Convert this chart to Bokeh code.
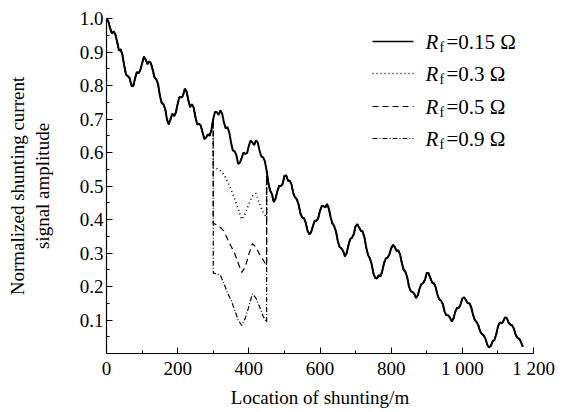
from bokeh.plotting import figure
from bokeh.models import Range1d, FixedTicker, Label, Arrow, NumeralTickFormatter
from bokeh.embed import file_html
from bokeh.resources import INLINE

# ---- data ----
x_loc = list(range(0, 1180, 10))
amp_main = [1.000, 0.972, 0.962, 0.930, 0.908, 0.858, 0.828, 0.800, 0.820, 0.836,
            0.866, 0.878, 0.872, 0.846, 0.818, 0.770, 0.744, 0.698, 0.700, 0.708,
            0.745, 0.764, 0.790, 0.756, 0.744, 0.705, 0.686, 0.660, 0.645, 0.650,
            0.700, 0.720, 0.726, 0.690, 0.676, 0.630, 0.604, 0.566, 0.584, 0.596,
            0.620, 0.630, 0.636, 0.606, 0.586, 0.546, 0.486, 0.452, 0.484, 0.500,
            0.530, 0.516, 0.504, 0.466, 0.444, 0.406, 0.390, 0.356, 0.380, 0.396,
            0.426, 0.440, 0.446, 0.406, 0.380, 0.336, 0.314, 0.290, 0.324, 0.346,
            0.380, 0.376, 0.364, 0.316, 0.284, 0.240, 0.224, 0.230, 0.270, 0.286,
            0.314, 0.318, 0.308, 0.270, 0.244, 0.200, 0.184, 0.166, 0.194, 0.210,
            0.240, 0.226, 0.210, 0.176, 0.158, 0.126, 0.114, 0.096, 0.124, 0.136,
            0.164, 0.160, 0.150, 0.116, 0.094, 0.066, 0.054, 0.026, 0.022, 0.040,
            0.080, 0.090, 0.108, 0.092, 0.084, 0.056, 0.044, 0.020]
# readings half-way between the 10 m samples (x = 5, 15, ..., 1165)
x_mid = list(range(5, 1170, 10))
amp_mid = [0.992, 0.955, 0.952, 0.904, 0.890, 0.832, 0.822, 0.798, 0.840, 0.846,
           0.886, 0.864, 0.866, 0.824, 0.804, 0.748, 0.730, 0.684, 0.716, 0.720,
           0.766, 0.770, 0.782, 0.736, 0.734, 0.684, 0.680, 0.640, 0.654, 0.668,
           0.722, 0.712, 0.716, 0.672, 0.660, 0.606, 0.592, 0.570, 0.600, 0.598,
           0.636, 0.622, 0.630, 0.588, 0.574, 0.508, 0.476, 0.462, 0.500, 0.506,
           0.532, 0.516, 0.478, 0.460, 0.418, 0.404, 0.366, 0.362, 0.396, 0.404,
           0.440, 0.436, 0.432, 0.388, 0.364, 0.318, 0.306, 0.300, 0.342, 0.356,
           0.386, 0.366, 0.346, 0.294, 0.268, 0.226, 0.234, 0.246, 0.284, 0.296,
           0.324, 0.306, 0.296, 0.250, 0.228, 0.186, 0.178, 0.174, 0.208, 0.220,
           0.240, 0.212, 0.198, 0.162, 0.148, 0.114, 0.108, 0.104, 0.136, 0.146,
           0.168, 0.150, 0.138, 0.100, 0.084, 0.058, 0.044, 0.018, 0.036, 0.056,
           0.092, 0.096, 0.106, 0.086, 0.074, 0.046, 0.034]

x_drop = [300, 310, 320, 330, 340, 350, 360, 370, 380, 390, 400, 410, 420, 430, 440, 450]
amp_03 = [0.555, 0.552, 0.546, 0.534, 0.514, 0.490, 0.462, 0.432, 0.400, 0.418,
          0.446, 0.470, 0.478, 0.446, 0.422, 0.405]
amp_05 = [0.388, 0.384, 0.376, 0.366, 0.342, 0.320, 0.300, 0.270, 0.242, 0.258,
          0.296, 0.328, 0.318, 0.296, 0.280, 0.262]
amp_09 = [0.240, 0.238, 0.233, 0.210, 0.180, 0.160, 0.130, 0.100, 0.084, 0.105,
          0.140, 0.178, 0.165, 0.140, 0.112, 0.093]

labels_rf = ["0.15", "0.3", "0.5", "0.9"]
x_ticks = [0, 200, 400, 600, 800, 1000, 1200]
x_tick_labels = ["0", "200", "400", "600", "800", "1 000", "1 200"]
y_ticks = [0.1, 0.2, 0.3, 0.4, 0.5, 0.6, 0.7, 0.8, 0.9, 1.0]

FONT = "Liberation Serif"

# merge the 10 m and 5 m readings into one ordered trace
pairs = sorted(zip(x_loc + x_mid, amp_main + amp_mid))
x_all = [a for a, _ in pairs]
y_all = [b for _, b in pairs]

def splice(drop):
    i0 = x_all.index(300)
    i1 = x_all.index(450)
    return x_all[:i0 + 1] + x_drop + x_all[i1:], y_all[:i0 + 1] + drop + y_all[i1:]

p = figure(width=567, height=412, output_backend="svg", toolbar_location=None,
           x_range=Range1d(0, 1200), y_range=Range1d(0, 1.0),
           min_border_left=106, min_border_right=34, min_border_top=18, min_border_bottom=59)
p.outline_line_color = None
p.xgrid.grid_line_color = None
p.ygrid.grid_line_color = None
p.background_fill_color = "white"

styles = [("solid", 1.3), ("1 3", 1.6), ("6 4", 1.2), ("5 2 1 2", 1.2)]
p.line(x_all, y_all, line_color="black", line_width=2.0)
for drop, (dash, lw) in zip([amp_03, amp_05, amp_09], styles[1:]):
    xs, ys = splice(drop)
    p.line(xs, ys, line_color="black", line_width=lw, line_dash=dash)

for ax in (p.xaxis[0], p.yaxis[0]):
    ax.axis_line_color = "black"
    ax.axis_line_width = 1.2
    ax.major_tick_in = 6
    ax.major_tick_out = 0
    ax.minor_tick_in = 3
    ax.minor_tick_out = 0
    ax.major_tick_line_color = "black"
    ax.minor_tick_line_color = "black"
    ax.major_label_text_font = FONT
    ax.major_label_text_font_size = "19px"
    ax.major_label_text_color = "black"
    ax.axis_label_text_font = FONT
    ax.axis_label_text_font_size = "19px"
    ax.axis_label_text_font_style = "normal"
    ax.axis_label_text_color = "black"

p.xaxis.ticker = FixedTicker(ticks=x_ticks, minor_ticks=list(range(100, 1200, 200)))
p.xaxis.major_label_overrides = {t: l for t, l in zip(x_ticks, x_tick_labels)}
p.yaxis.ticker = FixedTicker(ticks=y_ticks, minor_ticks=[0.05, 0.15, 0.25, 0.35, 0.45,
                                                         0.55, 0.65, 0.75, 0.85, 0.95])
p.yaxis.formatter = NumeralTickFormatter(format="0.0")
p.xaxis.axis_label = "Location of shunting/m"
p.yaxis.axis_label = "Normalized shunting current\nsignal amplitude"
p.xaxis.major_label_standoff = 4
p.xaxis.axis_label_standoff = 5
p.yaxis.major_label_standoff = 3
p.yaxis.axis_label_standoff = 24

# legend drawn with screen-unit annotations (keeps the subscript f)
row_y = [312, 280, 247, 215]
for yy, lab, (dash, lw) in zip(row_y, labels_rf, styles):
    p.add_layout(Arrow(end=None, x_start=266, y_start=yy, x_end=307, y_end=yy,
                       start_units="screen", end_units="screen",
                       line_color="black", line_width=lw, line_dash=dash))
    p.add_layout(Label(x=319, y=yy, x_units="screen", y_units="screen", text="R",
                       text_font=FONT, text_font_style="italic", text_font_size="21px",
                       text_baseline="middle", text_color="black"))
    p.add_layout(Label(x=333, y=yy - 6, x_units="screen", y_units="screen", text="f",
                       text_font=FONT, text_font_size="14px",
                       text_baseline="middle", text_color="black"))
    p.add_layout(Label(x=340, y=yy, x_units="screen", y_units="screen",
                       text="=" + lab + " \u03a9",
                       text_font=FONT, text_font_size="21px",
                       text_baseline="middle", text_color="black"))

open("out.html", "w").write(file_html(p, INLINE))
